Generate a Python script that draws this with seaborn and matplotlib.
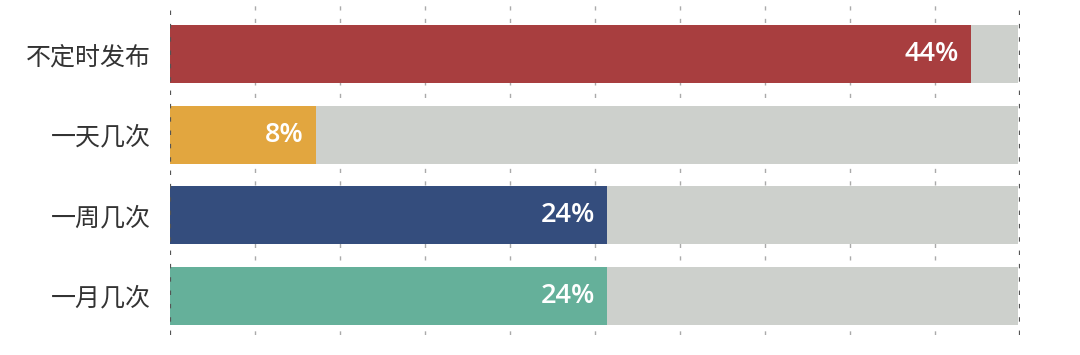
import matplotlib
matplotlib.use("Agg")
import matplotlib.pyplot as plt
import seaborn as sns
import pandas as pd
import numpy as np

categories = ["不定时发布", "一天几次", "一周几次", "一月几次"]
values = [44, 8, 24, 24]
labels = ["44%", "8%", "24%", "24%"]
colors = ["#A83E3F", "#E2A63F", "#344D7D", "#65B09A"]
track_max = 46.6
axis_max = 46.7

sns.set_theme(style="white")
plt.rcParams['font.family'] = ['Noto Sans CJK SC', 'DejaVu Sans']

df = pd.DataFrame({"cat": categories, "val": values, "track": [track_max] * len(categories)})

fig = plt.figure(figsize=(10.8, 3.55), dpi=100)
ax = fig.add_axes([170 / 1080, 20 / 355, 850 / 1080, 330 / 355])

sns.barplot(data=df, y="cat", x="track", color="#CDD0CC", width=0.72,
            orient="h", ax=ax, saturation=1, zorder=2, linewidth=0)
sns.barplot(data=df, y="cat", x="val", hue="cat", palette=colors, width=0.72,
            orient="h", ax=ax, saturation=1, legend=False, zorder=3, linewidth=0)

for i, (v, lab) in enumerate(zip(values, labels)):
    ax.text(v - 0.65, i, lab, ha="right", va="center", color="white",
            fontsize=19.5, fontweight="semibold", family=["Open Sans", "DejaVu Sans"], zorder=5)

ax.set_xlim(0, axis_max)
ax.set_ylim(3.49, -0.61)
ticks = np.linspace(0, axis_max, 11)
for t in ticks[1:-1]:
    ax.axvline(t, color="#AAAAAA", lw=1.0, ls=(0, (3, 6)), zorder=1)
for t in (ticks[0], ticks[-1]):
    ax.axvline(t, color="#555555", lw=1.6, ls=(0, (2, 4)), zorder=4)

ax.set_xticks([])
ax.set_xlabel("")
ax.set_ylabel("")
ax.tick_params(axis="y", length=0, pad=14)
for lab in ax.get_yticklabels():
    lab.set_fontsize(18)
    lab.set_color("#333333")
for s in ax.spines.values():
    s.set_visible(False)

fig.savefig("out.png", dpi=100, facecolor="white")
